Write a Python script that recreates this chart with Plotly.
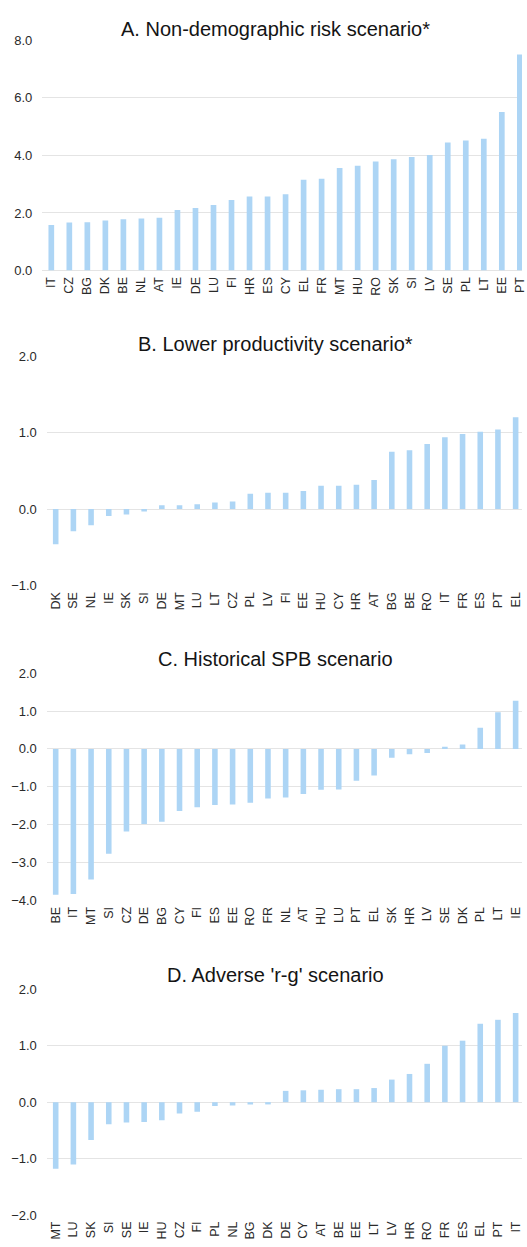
import plotly.graph_objects as go

W, H = 527, 1247

# A. Non-demographic risk scenario*
a_countries = ["IT", "CZ", "BG", "DK", "BE", "NL", "AT", "IE", "DE", "LU", "FI", "HR", "ES", "CY",
               "EL", "FR", "MT", "HU", "RO", "SK", "SI", "LV", "SE", "PL", "LT", "EE", "PT"]
a_values = [1.58, 1.67, 1.68, 1.74, 1.78, 1.81, 1.83, 2.10, 2.17, 2.28, 2.45, 2.57, 2.57, 2.65,
            3.15, 3.19, 3.56, 3.64, 3.79, 3.87, 3.94, 4.01, 4.45, 4.52, 4.58, 5.51, 7.51]

# B. Lower productivity scenario*
b_countries = ["DK", "SE", "NL", "IE", "SK", "SI", "DE", "MT", "LU", "LT", "CZ", "PL", "LV", "FI",
               "EE", "HU", "CY", "HR", "AT", "BG", "BE", "RO", "IT", "FR", "ES", "PT", "EL"]
b_values = [-0.46, -0.29, -0.21, -0.09, -0.07, -0.03, 0.05, 0.05, 0.065, 0.086, 0.10, 0.20, 0.215, 0.215,
            0.237, 0.305, 0.305, 0.32, 0.38, 0.75, 0.77, 0.85, 0.94, 0.98, 1.01, 1.04, 1.20]

# C. Historical SPB scenario
c_countries = ["BE", "IT", "MT", "SI", "CZ", "DE", "BG", "CY", "FI", "ES", "EE", "RO", "FR", "NL",
               "AT", "HU", "LU", "PT", "EL", "SK", "HR", "LV", "SE", "DK", "PL", "LT", "IE"]
c_values = [-3.85, -3.83, -3.45, -2.77, -2.18, -1.98, -1.92, -1.64, -1.54, -1.48, -1.47, -1.42, -1.31, -1.28,
            -1.19, -1.08, -1.07, -0.84, -0.70, -0.235, -0.14, -0.11, 0.06, 0.12, 0.56, 0.97, 1.27]

# D. Adverse 'r-g' scenario
d_countries = ["MT", "LU", "SK", "SI", "SE", "IE", "HU", "CZ", "FI", "PL", "NL", "BG", "DK", "DE",
               "CY", "AT", "BE", "EE", "LT", "LV", "HR", "RO", "FR", "ES", "EL", "PT", "IT"]
d_values = [-1.18, -1.105, -0.67, -0.39, -0.36, -0.35, -0.32, -0.20, -0.17, -0.07, -0.06, -0.04, -0.04, 0.20,
            0.21, 0.22, 0.23, 0.23, 0.25, 0.40, 0.50, 0.68, 1.00, 1.09, 1.39, 1.46, 1.58]

titles = ["A. Non-demographic risk scenario*", "B. Lower productivity scenario*",
          "C. Historical SPB scenario", "D. Adverse 'r-g' scenario"]
y_ranges = [(0, 8), (-1, 2), (-4, 2), (-2, 2)]
y_dticks = [2, 1, 1, 1]

BAR = "#ADD5F5"
GRID = "#E4E4E4"
FONT = "Arial, Liberation Sans, sans-serif"
TICK_COLOR = "#2A2A2A"

# pixel layout of each panel: plot left edge, top (max value), bottom (min value), title centre
layout_px = [
    dict(left=42.7, top=33.7, bottom=266.7, title_y=22.0, x_end=26.12),
    dict(left=47.3, top=353.3, bottom=585.7, title_y=341.3, x_end=26.36),
    dict(left=47.3, top=674.3, bottom=904.3, title_y=659.7, x_end=26.36),
    dict(left=47.3, top=994.3, bottom=1222.7, title_y=979.7, x_end=26.36),
]

fig = go.Figure()
data = [(a_countries, a_values), (b_countries, b_values), (c_countries, c_values), (d_countries, d_values)]

annotations = []
for i, ((cats, vals), px, title, yr, dt) in enumerate(zip(data, layout_px, titles, y_ranges, y_dticks), start=1):
    sfx = "" if i == 1 else str(i)
    fig.add_trace(go.Bar(x=cats, y=vals, marker=dict(color=BAR, line=dict(width=0)),
                         xaxis="x" + sfx, yaxis="y" + sfx, showlegend=False))
    fig.layout["xaxis" + sfx] = dict(
        domain=[px["left"] / W, 1], anchor="y" + sfx, type="category",
        range=[-0.5, px["x_end"]], tickangle=-90, showgrid=False, zeroline=False,
        showline=False, ticks="", ticklabelstandoff=3,
        tickfont=dict(family=FONT, size=12.5, color=TICK_COLOR),
    )
    fig.layout["yaxis" + sfx] = dict(
        domain=[(H - px["bottom"]) / H, (H - px["top"]) / H], anchor="x" + sfx,
        range=list(yr), dtick=dt, tick0=0, tickformat=".1f", showgrid=True, gridcolor=GRID,
        gridwidth=1, zeroline=True, zerolinecolor=GRID, zerolinewidth=1, showline=False,
        ticks="", ticklabelstandoff=9,
        tickfont=dict(family=FONT, size=13, color=TICK_COLOR),
    )
    annotations.append(dict(text=title, x=278 / W, y=(H - px["title_y"]) / H, xref="paper", yref="paper",
                            xanchor="center", yanchor="middle", showarrow=False,
                            font=dict(family=FONT, size=20, color="#141414")))

fig.update_layout(
    width=W, height=H, margin=dict(l=0, r=0, t=0, b=0),
    paper_bgcolor="white", plot_bgcolor="white",
    bargap=0.685, annotations=annotations,
)

fig.write_html("out.html")
